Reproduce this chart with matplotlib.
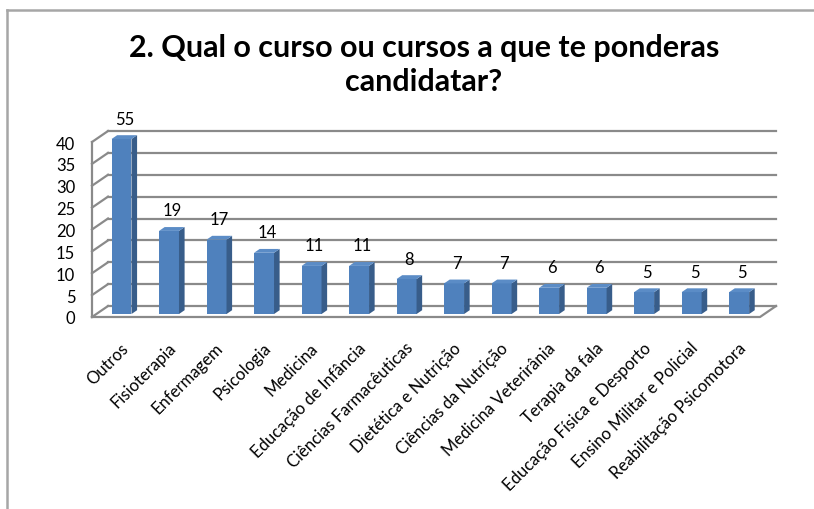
import matplotlib
matplotlib.use('Agg')
import matplotlib.pyplot as plt
from matplotlib.patches import Polygon
from matplotlib.lines import Line2D
import numpy as np

plt.rcParams['font.family'] = ['Lato', 'DejaVu Sans']

# dados
cursos = ['Outros', 'Fisioterapia', 'Enfermagem', 'Psicologia', 'Medicina',
          'Educação de Infância', 'Ciências Farmacêuticas', 'Dietética e Nutrição',
          'Ciências da Nutrição', 'Medicina Veterirânia', 'Terapia da fala',
          'Educação Física e Desporto', 'Ensino Militar e Policial',
          'Reabilitação Psicomotora']
valores = [55, 19, 17, 14, 11, 11, 8, 7, 7, 6, 6, 5, 5, 5]
yticks = [0, 5, 10, 15, 20, 25, 30, 35, 40]
titulo = '2. Qual o curso ou cursos a que te ponderas\ncandidatar?'

# estilo
W, H = 814, 510
ymax = 40
x0, x1 = -0.53, 13.53
dx, dy = 0.337, 2.51          # profundidade (unidades de dados)
f, bd, bw = 0.27, 0.35, 0.42  # posição/profundidade/largura das barras
azul, azul_lado, azul_topo = '#4f81bd', '#385d8a', '#5b8cc6'
cinza = '#8a8a8a'

fig = plt.figure(figsize=(W / 100, H / 100), dpi=100)
ax = fig.add_axes([92 / W, 1 - 318 / H, (760 - 92) / W, (318 - 143) / H])
ax.set_xlim(x0, x1)
ax.set_ylim(0, ymax)
for s in ax.spines.values():
    s.set_visible(False)

# paredes e grelha
for v in yticks:
    ax.plot([x0 + dx, x1 + dx], [v + dy, v + dy], color=cinza, lw=1.6,
            clip_on=False, zorder=1)
    ax.plot([x0, x0 + dx], [v, v + dy], color=cinza, lw=1.6, clip_on=False, zorder=1)
ax.plot([x0, x0], [0, ymax], color=cinza, lw=1.6, clip_on=False, zorder=1)
ax.plot([x0, x1, x1 + dx], [0, 0, dy], color=cinza, lw=1.6, clip_on=False, zorder=1)

# barras
xs = np.arange(len(valores))
alturas = [min(v, ymax) for v in valores]
cx = xs + f * dx
ax.bar(cx, alturas, width=bw, bottom=f * dy, color=azul, zorder=3, clip_on=False)
for c, h, v in zip(cx, alturas, valores):
    xl, xr = c - bw / 2, c + bw / 2
    b, t = f * dy, h + f * dy
    ax.add_patch(Polygon([(xr, b), (xr, t), (xr + bd * dx, t + bd * dy),
                          (xr + bd * dx, b + bd * dy)], closed=True,
                         facecolor=azul_lado, edgecolor='none', zorder=3, clip_on=False))
    ax.add_patch(Polygon([(xl, t), (xr, t), (xr + bd * dx, t + bd * dy),
                          (xl + bd * dx, t + bd * dy)], closed=True,
                         facecolor=azul_topo, edgecolor='none', zorder=3, clip_on=False))
    ax.annotate(str(v), (c + bd * dx / 2, t), xytext=(0, 9), textcoords='offset points',
                ha='center', va='bottom', fontsize=12, annotation_clip=False)

ax.set_yticks(yticks)
ax.set_yticklabels([str(v) for v in yticks], fontsize=12)
ax.tick_params(axis='y', length=0, pad=12)
ax.set_xticks(xs + 0.06)
ax.set_xticklabels(cursos, rotation=45, ha='right', rotation_mode='anchor', fontsize=12)
ax.tick_params(axis='x', length=0, pad=16)

fig.text(424 / W, 1 - 65 / H, titulo, ha='center', va='center', fontsize=22,
         fontweight='bold', linespacing=1.25)

# moldura
fig.add_artist(Line2D([7 / W, 7 / W], [-0.1, 1 - 11 / H], color='#a6a6a6', lw=1.8))
fig.add_artist(Line2D([7 / W, 1.1], [1 - 11 / H, 1 - 11 / H], color='#a6a6a6', lw=1.8))

fig.savefig('out.png', dpi=100)
